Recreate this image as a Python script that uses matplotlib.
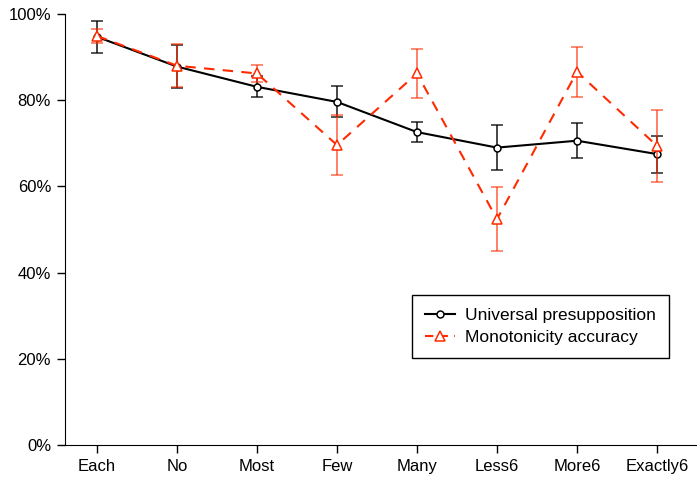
import numpy as np
import matplotlib
matplotlib.use("Agg")
import matplotlib.pyplot as plt
from matplotlib.lines import Line2D
from matplotlib.ticker import PercentFormatter

# quantifiers on the x axis
categories = ["Each", "No", "Most", "Few", "Many", "Less6", "More6", "Exactly6"]

# universal presupposition (black), percent and error half-widths
universal = [94.7, 87.8, 83.1, 79.6, 72.6, 69.0, 70.6, 67.5]
universal_err = [3.7, 5.0, 2.4, 3.6, 2.4, 5.3, 4.1, 4.3]

# monotonicity accuracy (red)
monotonicity = [94.9, 88.0, 86.2, 69.6, 86.2, 52.4, 86.6, 69.4]
monotonicity_err = [1.6, 5.0, 1.9, 7.0, 5.7, 7.5, 5.8, 8.3]

plt.rcParams['font.family'] = ['Liberation Sans', 'DejaVu Sans']
plt.rcParams['font.size'] = 12

red = '#ff2a00'
x = np.arange(len(categories))

fig = plt.figure(figsize=(6.97, 4.8), dpi=100)
ax = fig.add_axes([65 / 697, 35 / 480, 632 / 697, 431 / 480])

ax.errorbar(x, universal, yerr=universal_err, color='black', lw=1.5,
            marker='o', ms=5, mfc='white', mec='black', mew=1.1,
            ecolor=(0, 0, 0, 0.85), elinewidth=1.2, capsize=4, capthick=1.2,
            zorder=3)
ax.errorbar(x, monotonicity, yerr=monotonicity_err, color=red, lw=1.5,
            ls=(0, (5, 4)), marker='^', ms=6.5, mfc='white', mec=red, mew=1.1,
            ecolor=(1, 0.17, 0, 0.7), elinewidth=1.2, capsize=4, capthick=1.2,
            zorder=4)

ax.set_xlim(-0.4, 7.5)
ax.set_ylim(0, 100)
ax.set_xticks(x)
ax.set_xticklabels(categories)
ax.set_yticks(np.arange(0, 101, 20))
ax.yaxis.set_major_formatter(PercentFormatter(decimals=0))

ax.spines['top'].set_visible(False)
ax.spines['right'].set_visible(False)
ax.tick_params(direction='out', length=6, width=1, pad=4)

# legend shows only line + marker, no error bars
handles = [
    Line2D([], [], color='black', lw=1.5, marker='o', ms=5, mfc='white',
           mec='black', mew=1.1),
    Line2D([], [], color=red, lw=1.5, ls=(0, (4, 3)), marker='^', ms=6.5,
           mfc='white', mec=red, mew=1.1),
]
labels = ['Universal presupposition', 'Monotonicity accuracy']
leg = ax.legend(handles, labels, loc='upper left',
                bbox_to_anchor=(347 / 632, 150 / 431),
                fancybox=False, edgecolor='black', framealpha=1,
                prop={'size': 12.5}, handlelength=1.7, handletextpad=0.6,
                borderpad=0.75, labelspacing=0.4, borderaxespad=0)
leg.get_frame().set_linewidth(1)

fig.savefig('out.png', dpi=100)
